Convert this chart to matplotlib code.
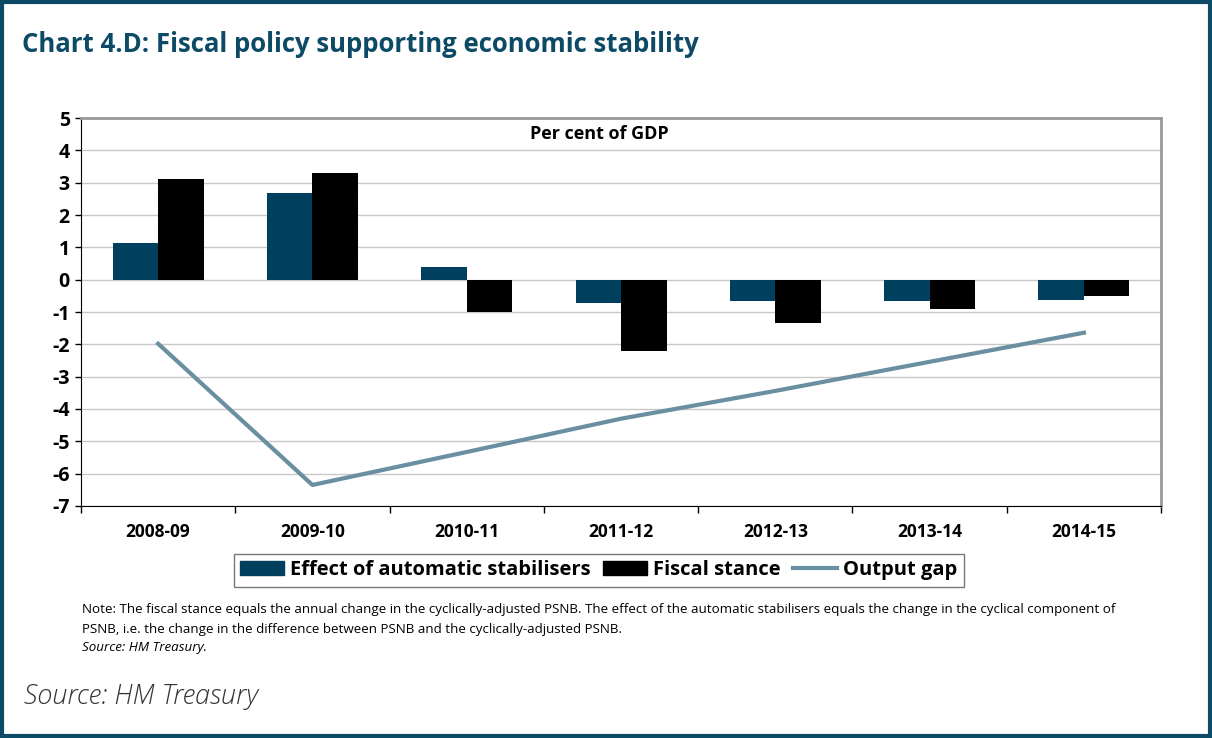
import matplotlib as mpl
import matplotlib.pyplot as plt
import numpy as np
from matplotlib.patches import Rectangle
from matplotlib.lines import Line2D

# data
years = ["2008-09", "2009-10", "2010-11", "2011-12", "2012-13", "2013-14", "2014-15"]
auto_stabilisers = [1.15, 2.69, 0.40, -0.71, -0.65, -0.65, -0.64]
fiscal_stance = [3.13, 3.31, -0.99, -2.20, -1.33, -0.90, -0.49]
output_gap = [-1.98, -6.35, -5.33, -4.30, -3.44, -2.54, -1.64]

TEAL = "#00405e"
LINE = "#6a8fa0"
TITLE = "#0c4a66"

mpl.rcParams["font.family"] = ["Open Sans", "DejaVu Sans"]

fig = plt.figure(figsize=(12.12, 7.38), dpi=100)
fig.patches.append(Rectangle((0.002, 0.003), 0.996, 0.994, transform=fig.transFigure,
                             fill=False, edgecolor=TITLE, linewidth=3))

ax = fig.add_axes([0.0668, 0.3144, 0.8912, 0.5256])
x = np.arange(len(years))
w = 0.295
ax.bar(x - w / 2, auto_stabilisers, w, color=TEAL, zorder=2)
ax.bar(x + w / 2, fiscal_stance, w, color="black", zorder=2)
ax.plot(x, output_gap, color=LINE, linewidth=3, zorder=3)

ax.set_xlim(-0.5, len(years) - 0.5)
ax.set_ylim(-7, 5)
ax.set_yticks(range(-7, 6))
ax.set_yticklabels([str(v) for v in range(-7, 6)], fontsize=14, fontweight="bold")
ax.yaxis.grid(True, color="#c8c8c8", linewidth=1, zorder=0)
ax.set_axisbelow(True)

ax.set_xticks(x)
ax.set_xticklabels(years, fontsize=12.5, fontweight="bold")
ax.set_xticks(np.arange(-0.5, len(years)), minor=True)
ax.tick_params(axis="x", which="major", length=0, pad=12)
ax.tick_params(axis="x", which="minor", length=5, width=1, direction="out")
ax.tick_params(axis="y", length=4, width=1, direction="out", pad=4)

for s in ["top", "right"]:
    ax.spines[s].set_color("#999999")
    ax.spines[s].set_linewidth(2)
ax.spines["left"].set_color("black")
ax.spines["bottom"].set_color("black")

ax.text(0.48, 0.96, "Per cent of GDP", transform=ax.transAxes, ha="center", va="center",
        fontsize=13, fontweight="bold")

handles = [Rectangle((0, 0), 1, 1, color=TEAL), Rectangle((0, 0), 1, 1, color="black"),
           Line2D([0], [0], color=LINE, linewidth=3)]
fig.legend(handles, ["Effect of automatic stabilisers", "Fiscal stance", "Output gap"],
           loc="center", bbox_to_anchor=(0.494, 0.227), ncol=3, frameon=True, fancybox=False,
           edgecolor="#555555", prop={"weight": "bold", "size": 14.5}, handlelength=2.2,
           handletextpad=0.3, columnspacing=0.6, borderpad=0.3)

fig.text(0.018, 0.94, "Chart 4.D: Fiscal policy supporting economic stability",
         fontsize=18.5, fontweight="bold", color=TITLE, va="center")

note = ("Note: The fiscal stance equals the annual change in the cyclically-adjusted PSNB. "
        "The effect of the automatic stabilisers equals the change in the cyclical component of\n"
        "PSNB, i.e. the change in the difference between PSNB and the cyclically-adjusted PSNB.")
fig.text(0.068, 0.161, note, fontsize=9.6, va="center", linespacing=1.7)
fig.text(0.068, 0.122, "Source: HM Treasury.", fontsize=9.6, style="italic", va="center")
fig.text(0.020, 0.056, "Source: HM Treasury", fontsize=19.5, style="italic", va="center",
         color="#333333", fontweight="light")

fig.savefig("out.png", dpi=100)
